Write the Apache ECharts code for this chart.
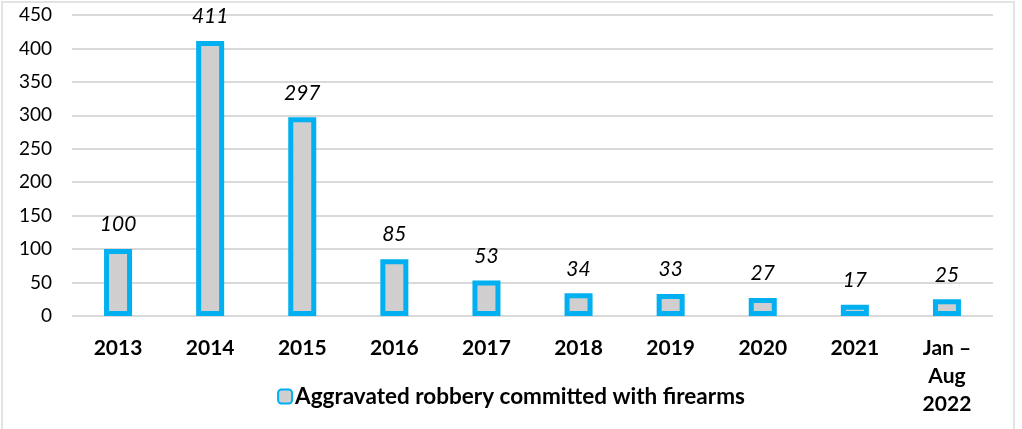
<!DOCTYPE html>
<html>
<head>
<meta charset="utf-8">
<script src="https://cdn.jsdelivr.net/npm/echarts@6/dist/echarts.min.js"></script>
<style>
html,body{margin:0;padding:0;background:#fff;}
#frame{position:absolute;left:1px;top:1px;width:1014px;height:440px;border:2px solid #e3e3e3;border-bottom:none;box-sizing:border-box;}
#chart{position:absolute;left:0;top:0;width:1022px;height:429px;}
</style>
</head>
<body>
<div id="frame"></div>
<div id="chart"></div>
<script>
const categories = ["2013","2014","2015","2016","2017","2018","2019","2020","2021","Jan –\nAug\n2022"];
const values = [100, 411, 297, 85, 53, 34, 33, 27, 17, 25];
const seriesName = "Aggravated robbery committed with firearms";
const yTicks = {min: 0, max: 450, interval: 50};

const chart = echarts.init(document.getElementById('chart'), null, {renderer: 'canvas'});
chart.setOption({
  animation: false,
  backgroundColor: 'transparent',
  textStyle: {fontFamily: 'Lato'},
  grid: {left: 72, right: 29, top: 15, bottom: 113, containLabel: false},
  legend: {
    data: [seriesName],
    top: 380,
    left: 'center',
    itemWidth: 14,
    itemHeight: 14,
    itemGap: 5,
    textStyle: {fontFamily: 'Lato', fontWeight: 'bold', fontSize: 22.5, color: '#000', padding: [0,0,0,-2]}
  },
  xAxis: {
    type: 'category',
    data: categories,
    axisLine: {show: false},
    axisTick: {show: false},
    axisLabel: {fontFamily: 'Lato', fontWeight: 'bold', fontSize: 21, color: '#000', margin: 18, lineHeight: 28, interval: 0, verticalAlign: 'top'}
  },
  yAxis: {
    type: 'value',
    min: yTicks.min, max: yTicks.max, interval: yTicks.interval,
    axisLine: {show: false},
    axisTick: {show: false},
    splitLine: {lineStyle: {color: '#d9d9d9', width: 2}},
    axisLabel: {fontFamily: 'Lato', fontSize: 19, color: '#000', margin: 20}
  },
  series: [{
    name: seriesName,
    type: 'bar',
    data: values,
    barWidth: 28,
    itemStyle: {color: '#d0cece', borderColor: '#00b0f0', borderWidth: 5},
    label: {show: true, position: 'top', distance: 14, fontFamily: 'Lato', fontStyle: 'italic', fontSize: 21, color: '#000'}
  }]
});
</script>
</body>
</html>
